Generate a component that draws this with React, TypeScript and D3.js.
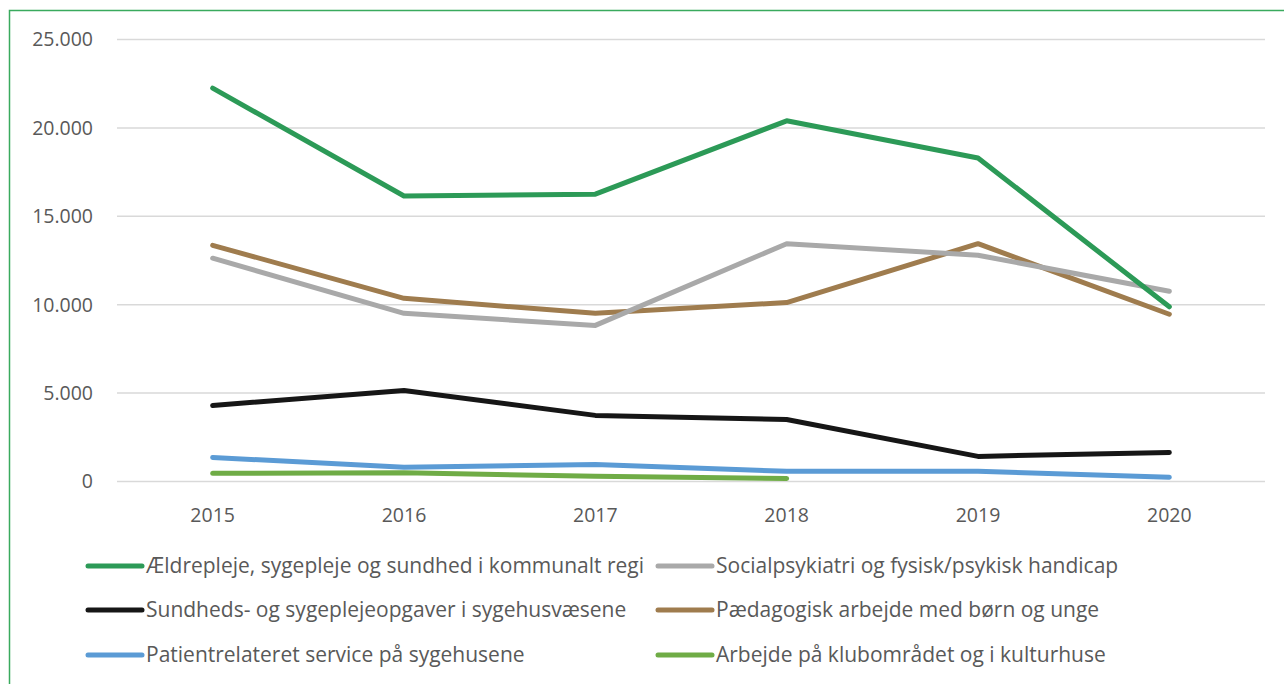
import React from "react";
import * as d3 from "d3";

const years = ["2015", "2016", "2017", "2018", "2019", "2020"];
const yTicks = [0, 5000, 10000, 15000, 20000, 25000];

const aeldre = [22250, 16150, 16250, 20400, 18300, 9880];
const social = [12630, 9510, 8830, 13450, 12800, 10760];
const sundhed = [4300, 5150, 3740, 3510, 1420, 1640];
const paedagogisk = [13360, 10360, 9510, 10120, 13450, 9460];
const patient = [1360, 800, 960, 580, 580, 240];
const klub = [460, 500, 290, 170];

const seriesNames = [
  "Ældrepleje, sygepleje og sundhed i kommunalt regi",
  "Socialpsykiatri og fysisk/psykisk handicap",
  "Sundheds- og sygeplejeopgaver i sygehusvæsene",
  "Pædagogisk arbejde med børn og unge",
  "Patientrelateret service på sygehusene",
  "Arbejde på klubområdet og i kulturhuse",
];
const seriesValues = [aeldre, social, sundhed, paedagogisk, patient, klub];
const seriesColors = ["#2c9a57", "#a9a9a9", "#161616", "#9f7c4e", "#5b9bd5", "#6fac46"];
// draw order (back to front)
const drawOrder = [5, 4, 2, 3, 1, 0];

const W = 1284;
const H = 684;
const plotLeft = 117;
const plotRight = 1265;
const plotTop = 39.5;
const plotBottom = 481.5;

const fmt = (v: number) => (v === 0 ? "0" : d3.format(",")(v).replace(/,/g, "."));

export default function App() {
  const x = d3.scaleBand<string>().domain(years).range([plotLeft, plotRight]);
  const y = d3.scaleLinear().domain([0, 25000]).range([plotBottom, plotTop]);
  const cx = (yr: string) => (x(yr) as number) + x.bandwidth() / 2;
  const line = d3
    .line<number>()
    .x((_, i) => cx(years[i]))
    .y((d) => y(d));

  const font = "'Open Sans', 'Noto Sans', sans-serif";
  const textColor = "#595959";

  const legendCols = [88, 658];
  const legendRows = [566, 610, 655];

  return (
    <div style={{ position: "fixed", left: 0, top: 0, width: W, height: H, background: "#fff" }}>
      <svg width={W} height={H} style={{ display: "block" }}>
        <rect x={9.5} y={10.5} width={W} height={H} fill="#fff" stroke="#3aaa5e" strokeWidth={1.5} />
        {yTicks.map((t) => (
          <g key={t}>
            <line x1={plotLeft} x2={plotRight} y1={y(t)} y2={y(t)} stroke="#d9d9d9" strokeWidth={1.5} />
            <text
              x={93}
              y={y(t)}
              dy="0.35em"
              textAnchor="end"
              fontFamily={font}
              fontSize={19.5}
              fill={textColor}
            >
              {fmt(t)}
            </text>
          </g>
        ))}
        {years.map((yr) => (
          <text
            key={yr}
            x={cx(yr)}
            y={522}
            textAnchor="middle"
            fontFamily={font}
            fontSize={19.5}
            fill={textColor}
          >
            {yr}
          </text>
        ))}
        {drawOrder.map((i) => (
          <path
            key={i}
            d={line(seriesValues[i]) || ""}
            fill="none"
            stroke={seriesColors[i]}
            strokeWidth={5}
            strokeLinecap="round"
            strokeLinejoin="round"
          />
        ))}
        {seriesNames.map((name, i) => {
          const col = i % 2;
          const row = Math.floor(i / 2);
          const lx = legendCols[col];
          const ly = legendRows[row];
          return (
            <g key={name}>
              <line
                x1={lx}
                x2={lx + 54}
                y1={ly}
                y2={ly}
                stroke={seriesColors[i]}
                strokeWidth={5}
                strokeLinecap="round"
              />
              <text
                x={lx + 58}
                y={ly}
                dy="0.35em"
                fontFamily={font}
                fontSize={21}
                fill={textColor}
              >
                {name}
              </text>
            </g>
          );
        })}
      </svg>
    </div>
  );
}
